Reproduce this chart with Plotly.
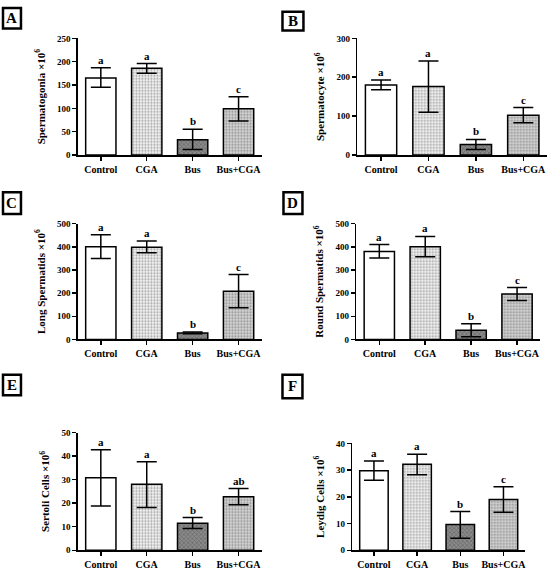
import plotly.graph_objects as go

categories = ["Control", "CGA", "Bus", "Bus+CGA"]

# Panel values: mean, upper error, lower error
A_mean = [165, 186, 33, 99]
A_up = [22, 10, 22, 26]
A_dn = [20, 11, 21, 26]
A_letters = ["a", "a", "b", "c"]

B_mean = [180, 176, 27, 102]
B_up = [13, 66, 13, 20]
B_dn = [12, 66, 13, 19]
B_letters = ["a", "a", "b", "c"]

C_mean = [400, 398, 28, 208]
C_up = [52, 27, 4, 72]
C_dn = [50, 23, 4, 71]
C_letters = ["a", "a", "b", "c"]

D_mean = [380, 400, 40, 196]
D_up = [30, 45, 28, 28]
D_dn = [28, 43, 28, 28]
D_letters = ["a", "a", "b", "c"]

E_mean = [30.8, 28.0, 11.5, 22.7]
E_up = [11.9, 9.6, 2.4, 3.5]
E_dn = [12.0, 9.8, 2.3, 3.4]
E_letters = ["a", "a", "b", "ab"]

F_mean = [29.8, 32.2, 9.6, 19.0]
F_up = [3.6, 3.7, 4.9, 4.8]
F_dn = [3.6, 3.9, 5.1, 4.8]
F_letters = ["a", "a", "b", "c"]

titles = ["Spermatogonia ×10<sup>6</sup>", "Spermatocyte ×10<sup>6</sup>",
          "Long Spermatids ×10<sup>6</sup>", "Round Spermatids ×10<sup>6</sup>",
          "Sertoli Cells ×10<sup>6</sup>", "Leydig Cells ×10<sup>6</sup>"]
panel_labels = ["A", "B", "C", "D", "E", "F"]
y_max = [250, 300, 500, 500, 50, 40]
y_dtick = [50, 100, 100, 100, 10, 10]

W, H = 550, 570
# plot areas in pixels: x0, x1, ytop, ybottom
areas = [(78, 262, 34, 153), (358, 548, 34, 153),
         (78, 262, 223, 341), (357, 541, 223, 341),
         (78, 262, 436, 556), (353, 526, 447, 556)]
label_boxes = [(3, 3, 21, 24), (283, 7, 304, 26),
               (3, 191, 21, 213), (284, 191, 303, 213),
               (3, 377, 21, 398), (283, 377, 303, 401)]

data = [(A_mean, A_up, A_dn, A_letters), (B_mean, B_up, B_dn, B_letters),
        (C_mean, C_up, C_dn, C_letters), (D_mean, D_up, D_dn, D_letters),
        (E_mean, E_up, E_dn, E_letters), (F_mean, F_up, F_dn, F_letters)]

bar_bg = ["white", "#f2f2f2", "#8a8a8a", "#d6d6d6"]
pat_fg = ["white", "#9a9a9a", "#2e2e2e", "#7a7a7a"]
pat_shape = ["", ".", "x", "."]
pat_size = [4, 3, 3, 3]
pat_sol = [0.2, 0.35, 0.4, 0.4]

FONT = "Liberation Serif"
fig = go.Figure()
annotations = []
shapes = []

for i in range(6):
    mean, up, dn, letters = data[i]
    ax = "" if i == 0 else str(i + 1)
    x0, x1, yt, yb = areas[i]
    fig.add_trace(go.Bar(
        x=categories, y=mean,
        xaxis="x" + ax, yaxis="y" + ax,
        width=0.66,
        marker=dict(color=bar_bg, line=dict(color="black", width=1.5),
                    pattern=dict(shape=pat_shape, fgcolor=pat_fg, size=pat_size,
                                 solidity=pat_sol, fillmode="overlay")),
        error_y=dict(type="data", array=up, arrayminus=dn, symmetric=False,
                     color="black", thickness=1.5, width=10),
        showlegend=False, hoverinfo="skip",
    ))
    fig.update_layout(**{
        "xaxis" + ax: dict(domain=[x0 / W, x1 / W], anchor="y" + ax,
                           type="category", range=[-0.5, 3.5],
                           showline=True, linecolor="black", linewidth=1.5,
                           ticks="outside", ticklen=4, tickcolor="black", tickwidth=1.5,
                           tickfont=dict(family=FONT, size=10, color="black", weight="bold"),
                           showgrid=False, zeroline=False, fixedrange=True),
        "yaxis" + ax: dict(domain=[1 - yb / H, 1 - yt / H], anchor="x" + ax,
                           range=[0, y_max[i]], dtick=y_dtick[i],
                           showline=True, linecolor="black", linewidth=1.5,
                           ticks="outside", ticklen=4, tickcolor="black", tickwidth=1.5,
                           tickfont=dict(family=FONT, size=9, color="black", weight="bold"),
                           showgrid=False, zeroline=False, fixedrange=True,
                           title=dict(text=titles[i], standoff=9,
                                      font=dict(family=FONT, size=11, color="black", weight="bold"))),
    })
    for j, c in enumerate(categories):
        annotations.append(dict(x=c, y=mean[j] + up[j], xref="x" + ax, yref="y" + ax,
                                text=letters[j], showarrow=False, yanchor="bottom",
                                yshift=0,
                                font=dict(family=FONT, size=11, color="black", weight="bold")))
    bx0, by0, bx1, by1 = label_boxes[i]
    shapes.append(dict(type="rect", xref="paper", yref="paper",
                       x0=bx0 / W, x1=bx1 / W, y0=1 - by1 / H, y1=1 - by0 / H,
                       line=dict(color="black", width=2.5)))
    annotations.append(dict(x=(bx0 + bx1) / 2 / W, y=1 - (by0 + by1) / 2 / H,
                            xref="paper", yref="paper", text=panel_labels[i],
                            showarrow=False, xanchor="center", yanchor="middle",
                            font=dict(family=FONT, size=15, color="black", weight="bold")))

fig.update_layout(width=W, height=H, margin=dict(l=0, r=0, t=0, b=0),
                  paper_bgcolor="white", plot_bgcolor="white",
                  annotations=annotations, shapes=shapes, bargap=0.3)
fig.write_html("out.html", config={"displayModeBar": False, "staticPlot": True},
               post_script="document.body.style.margin='0';document.body.style.overflow='hidden';")
